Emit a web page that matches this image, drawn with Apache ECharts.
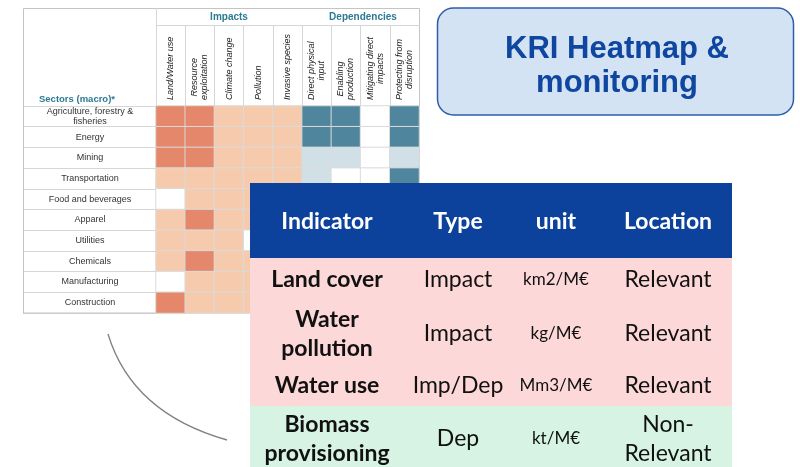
<!DOCTYPE html>
<html>
<head>
<meta charset="UTF-8">
<title>KRI Heatmap</title>
<script src="https://cdn.jsdelivr.net/npm/echarts@6/dist/echarts.min.js"></script>
<style>
html, body { margin: 0; padding: 0; background: #fff; }
#main { width: 800px; height: 467px; }
</style>
</head>
<body>
<div id="main"></div>
<script>
// heatmap rows / columns
var sectors = ['Agriculture, forestry &\nfisheries', 'Energy', 'Mining', 'Transportation', 'Food and beverages',
  'Apparel', 'Utilities', 'Chemicals', 'Manufacturing', 'Construction'];
var pressures = ['Land/Water use', 'Resource\nexploitation', 'Climate change', 'Pollution', 'Invasive species',
  'Direct physical\ninput', 'Enabling\nproduction', 'Mitigating direct\nimpacts', 'Protecting from\ndisruption'];
// 0 none, 1 impact medium, 2 impact high, 3 dependency medium, 4 dependency high
var heatRows = [
  [2, 2, 1, 1, 1, 4, 4, 0, 4],
  [2, 2, 1, 1, 1, 4, 4, 0, 4],
  [2, 2, 1, 1, 1, 3, 3, 0, 3],
  [1, 1, 1, 1, 1, 3, 0, 0, 4],
  [0, 1, 1, 1, 1, 3, 3, 0, 3],
  [1, 2, 1, 1, 1, 3, 0, 0, 3],
  [1, 1, 1, 0, 1, 4, 3, 0, 3],
  [1, 2, 1, 1, 1, 3, 3, 0, 3],
  [0, 1, 1, 1, 1, 3, 3, 0, 3],
  [2, 1, 1, 1, 1, 3, 0, 0, 3]
];

// KRI table
var tableHead = ['Indicator', 'Type', 'unit', 'Location'];
var indicators = ['Land cover', 'Water\npollution', 'Water use', 'Biomass\nprovisioning'];
var types = ['Impact', 'Impact', 'Imp/Dep', 'Dep'];
var units = ['km2/M€', 'kg/M€', 'Mm3/M€', 'kt/M€'];
var locations = ['Relevant', 'Relevant', 'Relevant', 'Non-\nRelevant'];

var chart = echarts.init(document.getElementById('main'));

var heatData = [];
heatRows.forEach(function (row, r) {
  row.forEach(function (v, c) {
    heatData.push([c, r, v]);
  });
});

var lineCol = '#d6d6d6';
var smallFont = 'Liberation Sans';
var tableFont = 'Lato';

// table layout
var colX = [327, 458, 556, 668];
var rowH = [44, 64, 40, 66];
var tblLeft = 250, tblRight = 732, headTop = 183, headBottom = 258;

var graphics = [];
// heatmap frame
graphics.push({ type: 'rect', z: 1, shape: { x: 23.5, y: 8.5, width: 396, height: 304.5 },
  style: { fill: 'none', stroke: '#c4c4c4', lineWidth: 1 } });
graphics.push({ type: 'line', z: 1, shape: { x1: 156, y1: 25.5, x2: 420, y2: 25.5 },
  style: { stroke: lineCol, lineWidth: 1 } });
graphics.push({ type: 'line', z: 1, shape: { x1: 156.5, y1: 8, x2: 156.5, y2: 26 },
  style: { stroke: lineCol, lineWidth: 1 } });
graphics.push({ type: 'text', z: 1, style: { text: 'Impacts', x: 229, y: 17, align: 'center', verticalAlign: 'middle',
  font: 'bold 10px "Liberation Sans"', fill: '#2b7a92' } });
graphics.push({ type: 'text', z: 1, style: { text: 'Dependencies', x: 363, y: 17, align: 'center', verticalAlign: 'middle',
  font: 'bold 10px "Liberation Sans"', fill: '#2b7a92' } });
graphics.push({ type: 'text', z: 1, style: { text: 'Sectors (macro)*', x: 39, y: 99, align: 'left', verticalAlign: 'middle',
  font: 'bold 9.5px "Liberation Sans"', fill: '#2b7a92' } });

// connector arc
graphics.push({ type: 'bezierCurve', z: 1, shape: { x1: 108, y1: 334, x2: 227, y2: 440, cpx1: 132, cpy1: 413 },
  style: { stroke: '#808080', lineWidth: 1.3, fill: 'none' } });

// title box
graphics.push({ type: 'rect', z: 5, shape: { x: 437.5, y: 8, width: 356, height: 107, r: 16 },
  style: { fill: '#d4e3f4', stroke: '#2d5da6', lineWidth: 1.5 } });
graphics.push({ type: 'text', z: 6, style: { text: 'KRI Heatmap &', x: 617, y: 49, align: 'center', verticalAlign: 'middle',
  font: 'bold 31px "Liberation Sans"', fill: '#0f46a0' } });
graphics.push({ type: 'text', z: 6, style: { text: 'monitoring', x: 617, y: 83, align: 'center', verticalAlign: 'middle',
  font: 'bold 31px "Liberation Sans"', fill: '#0f46a0' } });

// table header
graphics.push({ type: 'rect', z: 10, shape: { x: tblLeft, y: headTop, width: tblRight - tblLeft, height: headBottom - headTop },
  style: { fill: '#0c429b' } });
tableHead.forEach(function (h, i) {
  graphics.push({ type: 'text', z: 11, style: { text: h, x: colX[i], y: 222, align: 'center', verticalAlign: 'middle',
    font: 'bold 23px "' + tableFont + '"', fill: '#ffffff' } });
});
// table body
var y0 = headBottom;
indicators.forEach(function (ind, i) {
  var relevant = locations[i] === 'Relevant';
  graphics.push({ type: 'rect', z: 10, shape: { x: tblLeft, y: y0, width: tblRight - tblLeft, height: rowH[i] },
    style: { fill: relevant ? '#fdd8d8' : '#d6f3e3' } });
  var cy = y0 + rowH[i] / 2;
  var cells = [ind, types[i], units[i], locations[i]];
  cells.forEach(function (t, c) {
    var font;
    if (c === 0) font = 'bold 23px "' + tableFont + '"';
    else if (c === 2) font = '17px "' + tableFont + '"';
    else font = '23px "' + tableFont + '"';
    graphics.push({ type: 'text', z: 11, style: { text: t, x: colX[c], y: cy, align: 'center', verticalAlign: 'middle',
      font: font, lineHeight: 29, fill: '#111111' } });
  });
  y0 += rowH[i];
});

chart.setOption({
  animation: false,
  backgroundColor: '#ffffff',
  grid: { left: 156, top: 106, width: 263, height: 207 },
  xAxis: {
    type: 'category',
    position: 'top',
    data: pressures,
    axisLine: { show: true, lineStyle: { color: lineCol } },
    axisTick: { show: true, length: 81, lineStyle: { color: lineCol } },
    splitLine: { show: false },
    axisLabel: {
      interval: 0,
      rotate: -90,
      margin: 6,
      formatter: function (v) {
        return v.split('\n').map(function (s) { return '{c|' + s + '}'; }).join('\n');
      },
      rich: {
        c: { align: 'center', fontStyle: 'italic', fontSize: 9, fontFamily: smallFont, color: '#222', lineHeight: 10 }
      }
    }
  },
  yAxis: {
    type: 'category',
    inverse: true,
    data: sectors,
    axisLine: { show: true, lineStyle: { color: lineCol } },
    axisTick: { show: true, length: 133, lineStyle: { color: lineCol } },
    splitLine: { show: false },
    axisLabel: {
      interval: 0,
      align: 'center',
      margin: 66,
      fontSize: 9,
      fontFamily: smallFont,
      color: '#333',
      lineHeight: 10
    }
  },
  visualMap: {
    type: 'piecewise',
    show: false,
    dimension: 2,
    seriesIndex: 0,
    pieces: [
      { value: 0, color: '#ffffff' },
      { value: 1, color: '#f6cbad' },
      { value: 2, color: '#e5876a' },
      { value: 3, color: '#d1e0e7' },
      { value: 4, color: '#4f869d' }
    ]
  },
  series: [{
    type: 'heatmap',
    data: heatData,
    itemStyle: { borderColor: '#dadada', borderWidth: 1 },
    emphasis: { disabled: true }
  }],
  graphic: graphics
});
</script>
</body>
</html>
